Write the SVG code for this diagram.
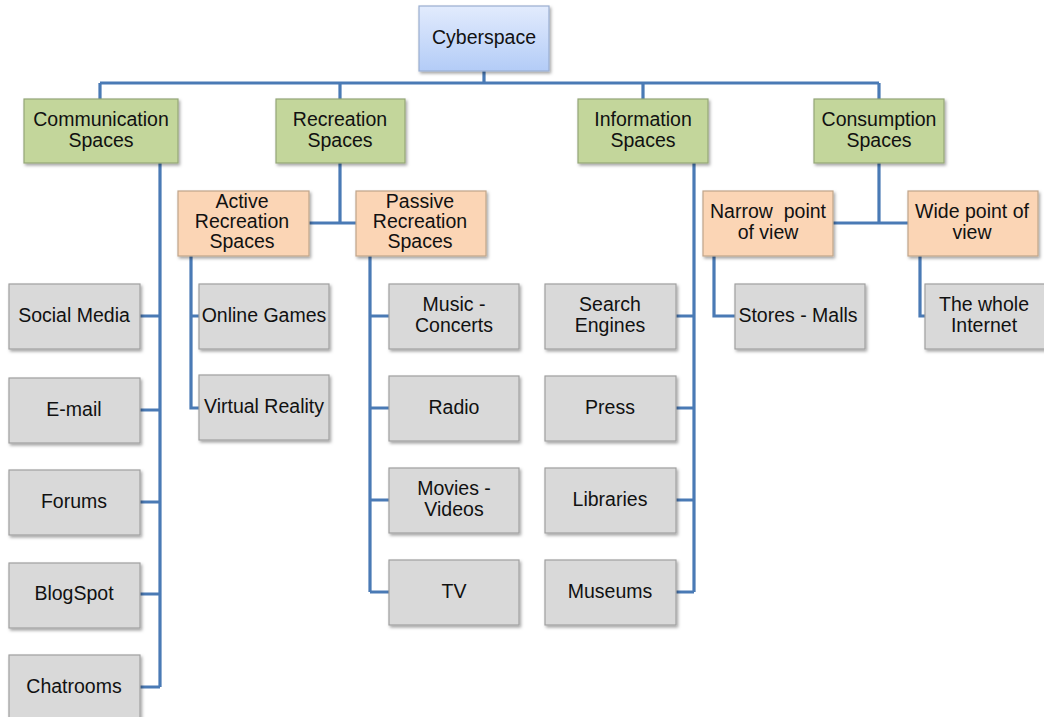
<svg xmlns="http://www.w3.org/2000/svg" width="1044" height="717" viewBox="0 0 1044 717">
<defs>
<linearGradient id="blue" x1="0" y1="0" x2="0" y2="1">
<stop offset="0" stop-color="#e2ebfd"/>
<stop offset="1" stop-color="#b3ccf7"/>
</linearGradient>
<filter id="sh" x="-10%" y="-10%" width="125%" height="130%">
<feDropShadow dx="1.5" dy="2" stdDeviation="1.5" flood-color="#000" flood-opacity="0.35"/>
</filter>
</defs>
<style>
rect{stroke-width:1.2;filter:url(#sh)}
.b{fill:url(#blue);stroke:#9aaed0}
.g{fill:#c3d69b;stroke:#94a677}
.o{fill:#fbd5b5;stroke:#c0a58a}
.y{fill:#d9d9d9;stroke:#a0a0a0}
text{font-family:"Liberation Sans",Arial,sans-serif;font-size:19.5px;fill:#111;text-anchor:middle}
.c path{fill:none;stroke:#4a7ab5;stroke-width:3.2}
</style>
<rect width="1044" height="717" fill="#fff" style="filter:none;stroke:none"/>
<g class="c" id="connectors">
<path d="M484 71V83M100 83H879M100 83V99M340 83V99M643 83V99M879 83V99"/>
<path d="M160 163V687M140 316H160M140 410H160M140 502H160M140 594H160M140 687H160"/>
<path d="M340 163V223M309 223H356"/>
<path d="M191 256V408H199M191 316H199"/>
<path d="M370 256V592M370 316H389M370 408H389M370 500H389M370 592H389"/>
<path d="M694 163V592M676 316H694M676 408H694M676 500H694M676 592H694"/>
<path d="M879 163V223M833 223H908"/>
<path d="M714 256V316H735"/>
<path d="M920 256V316H925"/>
</g>
<g id="cyberspace"><rect class="b" x="419" y="6" width="130" height="65"/><text x="484" y="44">Cyberspace</text></g>
<g id="communication"><rect class="g" x="24" y="99" width="154" height="64"/><text x="101" y="126">Communication</text><text x="101" y="147">Spaces</text></g>
<g id="recreation"><rect class="g" x="276" y="99" width="129" height="64"/><text x="340" y="126">Recreation</text><text x="340" y="147">Spaces</text></g>
<g id="information"><rect class="g" x="578" y="99" width="130" height="64"/><text x="643" y="126">Information</text><text x="643" y="147">Spaces</text></g>
<g id="consumption"><rect class="g" x="814" y="99" width="130" height="64"/><text x="879" y="126">Consumption</text><text x="879" y="147">Spaces</text></g>
<g id="active"><rect class="o" x="178" y="191" width="131" height="65"/><text x="242" y="208">Active</text><text x="242" y="228">Recreation</text><text x="242" y="248">Spaces</text></g>
<g id="passive"><rect class="o" x="356" y="191" width="130" height="65"/><text x="420" y="208">Passive</text><text x="420" y="228">Recreation</text><text x="420" y="248">Spaces</text></g>
<g id="narrow"><rect class="o" x="703" y="191" width="130" height="65"/><text x="768" y="218" xml:space="preserve">Narrow  point</text><text x="768" y="239">of view</text></g>
<g id="wide"><rect class="o" x="908" y="191" width="130" height="65"/><text x="972" y="218">Wide point of</text><text x="972" y="239">view</text></g>
<g id="social"><rect class="y" x="9" y="284" width="131" height="65"/><text x="74" y="322">Social Media</text></g>
<g id="email"><rect class="y" x="9" y="378" width="131" height="65"/><text x="74" y="416">E-mail</text></g>
<g id="forums"><rect class="y" x="9" y="470" width="131" height="65"/><text x="74" y="508">Forums</text></g>
<g id="blogspot"><rect class="y" x="9" y="563" width="131" height="65"/><text x="74" y="600">BlogSpot</text></g>
<g id="chatrooms"><rect class="y" x="9" y="655" width="131" height="65"/><text x="74" y="693">Chatrooms</text></g>
<g id="online"><rect class="y" x="199" y="284" width="130" height="65"/><text x="264" y="322">Online Games</text></g>
<g id="vr"><rect class="y" x="199" y="375" width="130" height="65"/><text x="264" y="413">Virtual Reality</text></g>
<g id="music"><rect class="y" x="389" y="284" width="130" height="65"/><text x="454" y="311">Music -</text><text x="454" y="332">Concerts</text></g>
<g id="radio"><rect class="y" x="389" y="376" width="130" height="65"/><text x="454" y="414">Radio</text></g>
<g id="movies"><rect class="y" x="389" y="468" width="130" height="65"/><text x="454" y="495">Movies -</text><text x="454" y="516">Videos</text></g>
<g id="tv"><rect class="y" x="389" y="560" width="130" height="65"/><text x="454" y="598">TV</text></g>
<g id="search"><rect class="y" x="545" y="284" width="131" height="65"/><text x="610" y="311">Search</text><text x="610" y="332">Engines</text></g>
<g id="press"><rect class="y" x="545" y="376" width="131" height="65"/><text x="610" y="414">Press</text></g>
<g id="libraries"><rect class="y" x="545" y="468" width="131" height="65"/><text x="610" y="506">Libraries</text></g>
<g id="museums"><rect class="y" x="545" y="560" width="131" height="65"/><text x="610" y="598">Museums</text></g>
<g id="stores"><rect class="y" x="735" y="284" width="130" height="65"/><text x="798" y="322">Stores - Malls</text></g>
<g id="internet"><rect class="y" x="925" y="284" width="130" height="65"/><text x="984" y="311">The whole</text><text x="984" y="332">Internet</text></g>
</svg>
